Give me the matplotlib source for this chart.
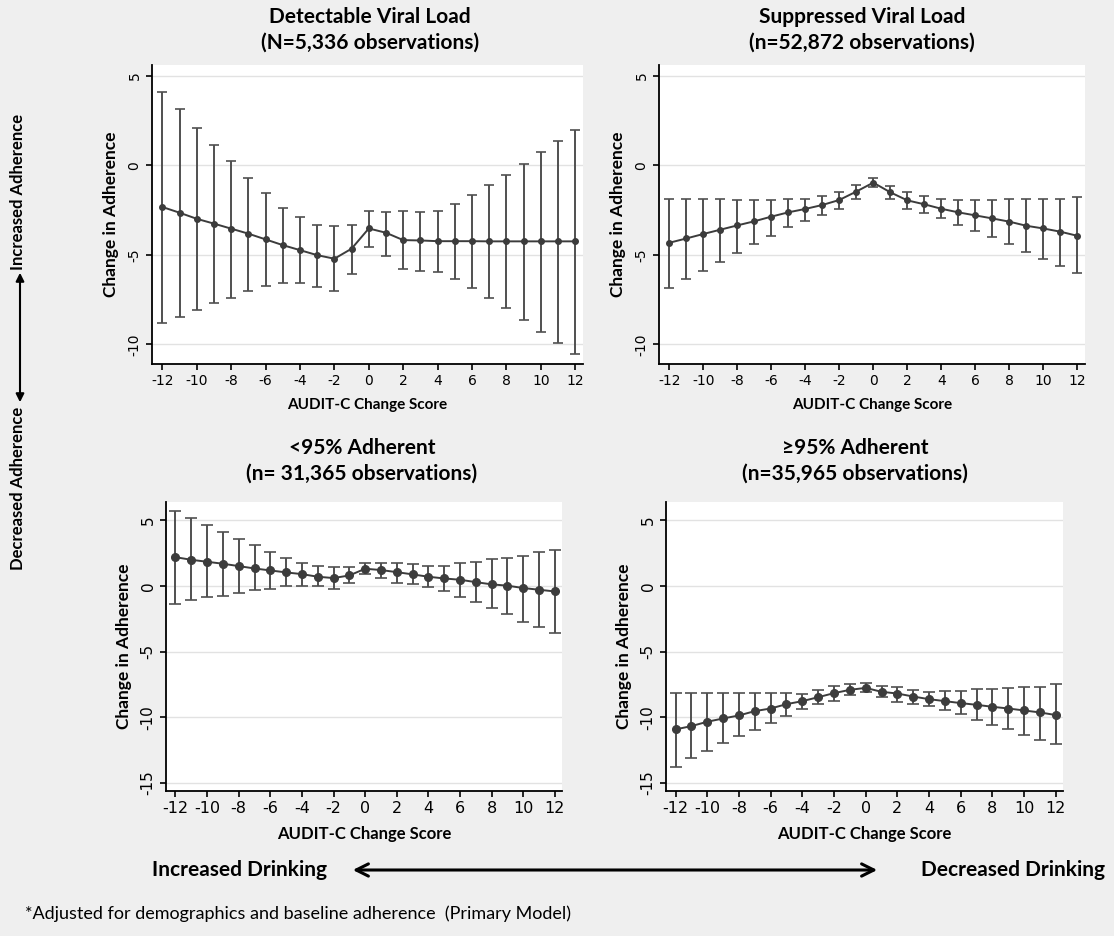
import matplotlib.pyplot as plt
from matplotlib.patches import FancyArrowPatch

plt.rcParams['font.family'] = ['Lato', 'DejaVu Sans']
plt.rcParams['axes.unicode_minus'] = False

x = list(range(-12, 13))

# Detectable viral load (top left)
dvl_est = [-2.33, -2.65, -2.99, -3.26, -3.54, -3.82, -4.14, -4.46, -4.74, -5.02, -5.22, -4.66, -3.53,
           -3.77, -4.18, -4.20, -4.24, -4.24, -4.24, -4.25, -4.25, -4.25, -4.25, -4.25, -4.25]
dvl_hi = [4.07, 3.12, 2.07, 1.12, 0.26, -0.69, -1.57, -2.37, -2.91, -3.32, -3.40, -3.32, -2.56,
          -2.61, -2.56, -2.61, -2.54, -2.15, -1.66, -1.10, -0.54, 0.07, 0.73, 1.38, 1.98]
dvl_lo = [-8.82, -8.50, -8.08, -7.69, -7.39, -7.03, -6.75, -6.57, -6.57, -6.81, -7.03, -6.10, -4.59,
          -5.07, -5.78, -5.88, -5.95, -6.34, -6.83, -7.39, -8.00, -8.64, -9.29, -9.93, -10.56]

# Suppressed viral load (top right)
svl_est = [-4.33, -4.09, -3.84, -3.60, -3.36, -3.13, -2.87, -2.63, -2.44, -2.22, -1.94, -1.47, -0.97,
           -1.51, -1.96, -2.18, -2.43, -2.63, -2.80, -2.97, -3.15, -3.38, -3.53, -3.71, -3.94]
svl_hi = [-1.90, -1.90, -1.90, -1.90, -1.96, -1.96, -1.96, -1.90, -1.87, -1.72, -1.49, -1.10, -0.73,
          -1.18, -1.51, -1.74, -1.90, -1.96, -1.96, -1.96, -1.90, -1.90, -1.90, -1.90, -1.79]
svl_lo = [-6.83, -6.36, -5.88, -5.39, -4.91, -4.42, -3.96, -3.47, -3.10, -2.76, -2.43, -1.87, -1.21,
          -1.88, -2.43, -2.69, -2.93, -3.32, -3.66, -4.03, -4.42, -4.83, -5.26, -5.63, -6.04]

# <95% adherent (bottom left)
low_est = [2.20, 2.00, 1.85, 1.70, 1.52, 1.34, 1.19, 1.04, 0.91, 0.71, 0.61, 0.81, 1.32,
           1.22, 1.06, 0.89, 0.71, 0.58, 0.48, 0.30, 0.13, 0.03, -0.15, -0.28, -0.41]
low_hi = [5.75, 5.19, 4.66, 4.10, 3.57, 3.16, 2.63, 2.15, 1.77, 1.52, 1.42, 1.42, 1.75,
          1.75, 1.75, 1.65, 1.52, 1.52, 1.75, 1.85, 2.05, 2.15, 2.28, 2.63, 2.73]
low_lo = [-1.39, -1.09, -0.86, -0.73, -0.53, -0.30, -0.20, 0.00, 0.00, 0.00, -0.20, 0.25, 0.89,
          0.63, 0.25, 0.13, -0.05, -0.38, -0.86, -1.19, -1.70, -2.15, -2.71, -3.11, -3.54]

# >=95% adherent (bottom right)
high_est = [-10.91, -10.66, -10.33, -10.08, -9.85, -9.52, -9.32, -8.99, -8.76, -8.46, -8.15, -7.90, -7.75,
            -8.05, -8.18, -8.41, -8.61, -8.76, -8.91, -9.04, -9.19, -9.32, -9.47, -9.62, -9.82]
high_hi = [-8.13, -8.13, -8.13, -8.13, -8.13, -8.13, -8.13, -8.13, -8.18, -7.90, -7.59, -7.49, -7.39,
           -7.59, -7.72, -7.90, -8.05, -7.95, -7.95, -7.85, -7.85, -7.75, -7.65, -7.65, -7.49]
high_lo = [-13.75, -13.09, -12.58, -11.92, -11.39, -10.96, -10.43, -9.87, -9.32, -9.01, -8.76, -8.28, -8.10,
           -8.43, -8.81, -8.96, -9.16, -9.47, -9.77, -10.23, -10.56, -10.86, -11.32, -11.75, -12.05]

titles = [("Detectable Viral Load", "(N=5,336 observations)"),
          ("Suppressed Viral Load", "(n=52,872 observations)"),
          ("<95% Adherent", "(n= 31,365 observations)"),
          ("\u226595% Adherent", "(n=35,965 observations)")]

W, H = 1114, 936
fig = plt.figure(figsize=(W / 100, H / 100), dpi=100, facecolor='#efefef')


def box(l, t, r, b):
    return [l / W, 1 - b / H, (r - l) / W, (b - t) / H]


# axes box, data, y range, y ticks, marker size, cap size, title centre x, title top y
panels = [
    (box(152, 65, 583, 364), dvl_est, dvl_lo, dvl_hi, (-11.1, 5.6), [5, 0, -5, -10], 4, 3.5, 370, 17),
    (box(659, 65, 1085, 364), svl_est, svl_lo, svl_hi, (-11.1, 5.6), [5, 0, -5, -10], 4, 3.5, 862, 17),
    (box(166, 502, 562, 791), low_est, low_lo, low_hi, (-15.6, 6.4), [5, 0, -5, -10, -15], 5.5, 4, 362, 448),
    (box(666, 502, 1063, 791), high_est, high_lo, high_hi, (-15.6, 6.4), [5, 0, -5, -10, -15], 5.5, 4, 855, 448),
]

line_col = '#3c3c3c'
for i, (pos, est, lo, hi, ylim, yt, ms, cap, tx, ty) in enumerate(panels):
    top = i < 2
    ax = fig.add_axes(pos)
    ax.set_facecolor('white')
    err = [[e - l for e, l in zip(est, lo)], [h - e for e, h in zip(est, hi)]]
    ax.errorbar(x, est, yerr=err, color=line_col, ecolor='#505050', elinewidth=1.4,
                capsize=cap, capthick=1.2, lw=1.4, marker='o', ms=ms, zorder=3)
    ax.set_xlim(-12.6, 12.45)
    ax.set_ylim(*ylim)
    ax.set_yticks(yt)
    ax.set_xticks(range(-12, 13, 2))
    ax.grid(axis='y', color='#e2e2e2', lw=1)
    ax.set_axisbelow(True)
    for s in ['top', 'right']:
        ax.spines[s].set_visible(False)
    ax.spines['left'].set_linewidth(1.3)
    ax.spines['bottom'].set_linewidth(1.3)
    ax.tick_params(axis='y', labelrotation=90, labelsize=10 if top else 11, length=4, width=1.2,
                   labelfontfamily='DejaVu Sans')
    ax.tick_params(axis='x', labelsize=10 if top else 11.5, length=4, width=1.2,
                   labelfontfamily='DejaVu Sans')
    for lab in ax.get_yticklabels():
        lab.set_va('center')
    ax.set_ylabel("Change in Adherence", fontsize=12.5, fontweight='bold', labelpad=6)
    ax.set_xlabel("AUDIT-C Change Score", fontsize=11 if top else 12, fontweight='bold', labelpad=7)
    fig.text(tx / W, 1 - ty / H, titles[i][0], fontsize=15, fontweight='bold',
             ha='center', va='center')
    fig.text(tx / W, 1 - (ty + 26) / H, titles[i][1], fontsize=15, fontweight='bold',
             ha='center', va='center')

# side annotations
fig.text(18 / W, 1 - 192 / H, "Increased Adherence", rotation=90, fontsize=12,
         fontweight='bold', ha='center', va='center')
fig.text(18 / W, 1 - 488 / H, "Decreased Adherence", rotation=90, fontsize=12,
         fontweight='bold', ha='center', va='center')
fig.patches.append(FancyArrowPatch(
    (20 / W, 1 - 405 / H), (20 / W, 1 - 270 / H), transform=fig.transFigure,
    arrowstyle='<|-|>', mutation_scale=12, lw=1.5, color='black'))

fig.text(152 / W, 1 - 870 / H, "Increased Drinking", fontsize=15, fontweight='bold',
         ha='left', va='center')
fig.text(1105 / W, 1 - 870 / H, "Decreased Drinking", fontsize=15, fontweight='bold',
         ha='right', va='center')
fig.patches.append(FancyArrowPatch(
    (350 / W, 1 - 870 / H), (880 / W, 1 - 870 / H), transform=fig.transFigure,
    arrowstyle='<->', mutation_scale=22, lw=2.2, color='black'))

fig.text(25 / W, 1 - 914 / H, "*Adjusted for demographics and baseline adherence  (Primary Model)",
         fontsize=13, ha='left', va='center')

fig.savefig('out.png', dpi=100, facecolor=fig.get_facecolor())
